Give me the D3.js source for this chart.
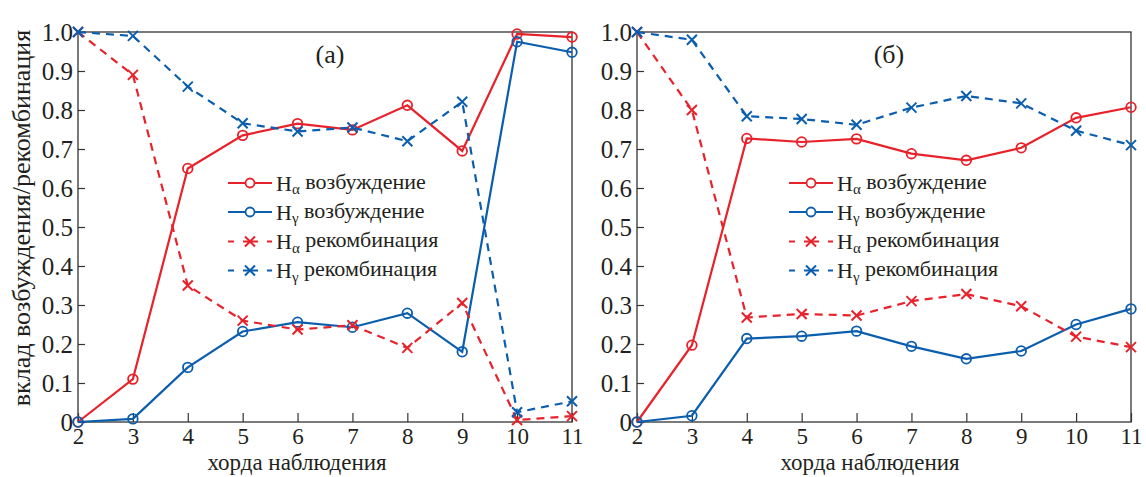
<!DOCTYPE html>
<html><head><meta charset="utf-8">
<script src="https://cdn.jsdelivr.net/npm/d3@7"></script>
<style>
body{margin:0;background:#fff;}
</style></head>
<body><svg id="c" width="1146" height="477"></svg>
<script>
const chords = [2,3,4,5,6,7,8,9,10,11];
const yTicks = [0,0.1,0.2,0.3,0.4,0.5,0.6,0.7,0.8,0.9,1.0];
const yTickLabels = ["0","0.1","0.2","0.3","0.4","0.5","0.6","0.7","0.8","0.9","1.0"];
const seriesNames = ["возбуждение","возбуждение","рекомбинация","рекомбинация"];
const seriesLines = ["α","γ","α","γ"];
// panel (a)
const aHaExc = [0,0.11,0.65,0.735,0.765,0.749,0.812,0.695,0.995,0.987];
const aHgExc = [0,0.008,0.14,0.232,0.256,0.243,0.279,0.18,0.975,0.948];
const aHaRec = [1.0,0.89,0.35,0.26,0.237,0.248,0.19,0.305,0.005,0.015];
const aHgRec = [1.0,0.99,0.86,0.766,0.745,0.755,0.72,0.821,0.025,0.053];
// panel (б)
const bHaExc = [0,0.197,0.727,0.718,0.726,0.688,0.671,0.703,0.78,0.807];
const bHgExc = [0,0.016,0.214,0.22,0.233,0.194,0.162,0.182,0.25,0.29];
const bHaRec = [1.0,0.80,0.268,0.277,0.273,0.31,0.328,0.297,0.219,0.192];
const bHgRec = [1.0,0.98,0.784,0.777,0.762,0.806,0.836,0.817,0.747,0.71];

const RED="#e8222b", BLUE="#0b5ead";
const FONT="'Liberation Serif', Tinos, 'DejaVu Serif', 'Times New Roman', serif";
const svg=d3.select("#c");

function panel(x0,x1,label,data,legX,xTitleX){
  const xs=d3.scaleLinear().domain([2,11]).range([x0,x1]);
  const ys=d3.scaleLinear().domain([0,1]).range([422,32]);
  const g=svg.append("g");
  const styles=[
    {c:RED,dash:null,m:"o"},{c:BLUE,dash:null,m:"o"},
    {c:RED,dash:"8,6",m:"x"},{c:BLUE,dash:"8,6",m:"x"}];
  const xa=g.append("g").attr("transform","translate(0,422)")
    .call(d3.axisBottom(xs).tickValues(chords).tickFormat(d3.format("d")).tickSizeInner(-9).tickSizeOuter(0));
  const ya=g.append("g").attr("transform",`translate(${x0},0)`)
    .call(d3.axisLeft(ys).tickValues(yTicks).tickFormat((d,i)=>yTickLabels[i]).tickSizeInner(-7).tickSizeOuter(0));
  [xa,ya].forEach(a=>{a.attr("font-family",null);a.select(".domain").remove();a.selectAll("line").attr("stroke","#333").attr("stroke-width",1.2);
    a.selectAll("text").style("font-family",FONT).style("font-size","25px").attr("fill","#231f20");});
  xa.selectAll("text").style("font-size","23px").attr("dy",null).attr("y",22);
  ya.selectAll("text").attr("x",-5).attr("dy","0.33em");
  g.append("rect").attr("x",x0).attr("y",32).attr("width",x1-x0).attr("height",390)
    .attr("fill","none").attr("stroke","#333").attr("stroke-width",1.3);
  const line=d3.line().x((d,i)=>xs(chords[i])).y(d=>ys(d));
  data.forEach((s,k)=>{
    const st=styles[k];
    g.append("path").attr("d",line(s)).attr("fill","none").attr("stroke",st.c)
      .attr("stroke-width",2.2).attr("stroke-dasharray",st.dash);
    s.forEach((v,i)=>{
      const cx=xs(chords[i]),cy=ys(v);
      if(st.m==="o") g.append("circle").attr("cx",cx).attr("cy",cy).attr("r",4.8)
        .attr("fill","none").attr("stroke",st.c).attr("stroke-width",1.8);
      else g.append("path").attr("d",`M${cx-5},${cy-5}L${cx+5},${cy+5}M${cx-5},${cy+5}L${cx+5},${cy-5}`)
        .attr("stroke",st.c).attr("stroke-width",2);
    });
  });
  g.append("text").attr("x",xs(2)+(x1-x0)*0.51).attr("y",63).attr("text-anchor","middle")
    .style("font-family",FONT).style("font-size","26px").attr("fill","#231f20").text(label);
  const rows=[183,212,241.5,270.5];
  styles.forEach((st,k)=>{
    const y=rows[k], lx=legX;
    if(st.m==="o"){
      g.append("line").attr("x1",lx).attr("x2",lx+44).attr("y1",y).attr("y2",y)
        .attr("stroke",st.c).attr("stroke-width",2.2);
      g.append("circle").attr("cx",lx+22).attr("cy",y).attr("r",4.5).attr("fill","#fff")
        .attr("stroke",st.c).attr("stroke-width",1.8);
    } else {
      g.append("line").attr("x1",lx).attr("x2",lx+44).attr("y1",y).attr("y2",y)
        .attr("stroke",st.c).attr("stroke-width",2.2).attr("stroke-dasharray","6,9,15,9,6");
      const cx=lx+22;
      g.append("path").attr("d",`M${cx-5},${y-5}L${cx+5},${y+5}M${cx-5},${y+5}L${cx+5},${y-5}`)
        .attr("stroke",st.c).attr("stroke-width",2);
    }
    const t=g.append("text").attr("x",lx+48).attr("y",y).attr("dy","0.35em")
      .style("font-family",FONT).style("font-size","22px").attr("fill","#231f20");
    t.append("tspan").text("H");
    t.append("tspan").text(seriesLines[k]).attr("dy","0.25em").style("font-size","15px");
    t.append("tspan").text(" "+seriesNames[k]).attr("dy","-0.25em");
  });
  svg.append("text").attr("x",xTitleX).attr("y",470).attr("text-anchor","middle")
    .style("font-family",FONT).style("font-size","23px").attr("fill","#231f20").text("хорда наблюдения");
}
panel(78,572,"(a)",[aHaExc,aHgExc,aHaRec,aHgRec],228,297);
panel(637,1131,"(б)",[bHaExc,bHgExc,bHaRec,bHgRec],789,870);
svg.append("text").attr("transform","translate(30,218) rotate(-90)").attr("text-anchor","middle")
  .style("font-family",FONT).style("font-size","26px").attr("fill","#231f20").text("вклад возбуждения/рекомбинация");
</script></body></html>
